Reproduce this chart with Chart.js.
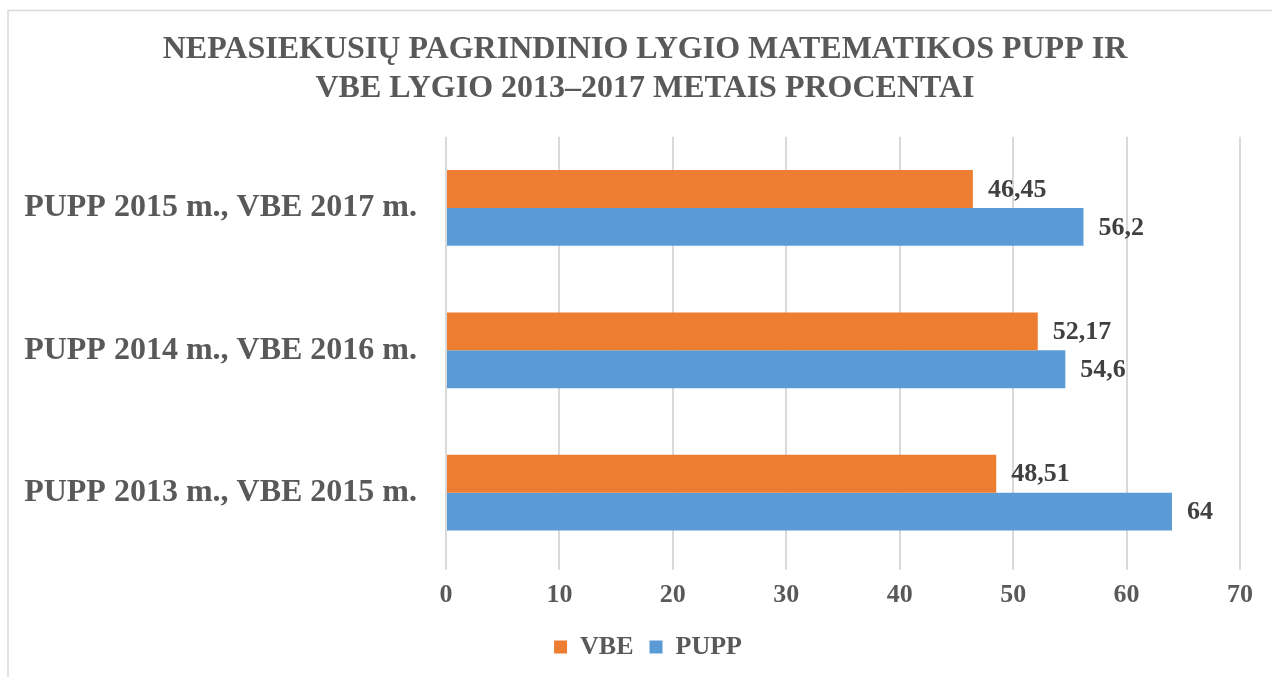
<!DOCTYPE html>
<html>
<head>
<meta charset="utf-8">
<script src="https://cdn.jsdelivr.net/npm/chart.js@4/dist/chart.umd.min.js"></script>
<style>
  html, body { margin: 0; padding: 0; background: #ffffff; }
  #wrap { position: relative; width: 1272px; height: 677px; }
</style>
</head>
<body>
<div id="wrap"><canvas id="c" width="1272" height="677"></canvas></div>
<script>
const categories = ["PUPP 2015 m., VBE 2017 m.", "PUPP 2014 m., VBE 2016 m.", "PUPP 2013 m., VBE 2015 m."];
const seriesNames = ["VBE", "PUPP"];
const vbeValues = [46.45, 52.17, 48.51];
const puppValues = [56.2, 54.6, 64];
const titleLines = ["NEPASIEKUSIŲ PAGRINDINIO LYGIO MATEMATIKOS PUPP IR", "VBE LYGIO 2013–2017 METAIS PROCENTAI"];
const xMin = 0, xMax = 70, xStep = 10;

const FONT = "'Liberation Serif', 'Times New Roman', serif";

const frame = {
  id: 'frame',
  beforeDraw(chart) {
    const ctx = chart.ctx;
    ctx.save();
    ctx.fillStyle = '#ffffff';
    ctx.fillRect(0, 0, chart.width, chart.height);
    ctx.strokeStyle = '#d9d9d9';
    ctx.lineWidth = 1.5;
    ctx.beginPath();
    ctx.moveTo(8, chart.height + 2);
    ctx.lineTo(8, 10.5);
    ctx.lineTo(chart.width + 2, 10.5);
    ctx.stroke();
    ctx.restore();
  }
};

// shift the title and legend blocks so they are centred like the original
const recentre = {
  id: 'recentre',
  afterLayout(chart) {
    if (chart.titleBlock) { chart.titleBlock.left += 50; }
    if (chart.legend) { chart.legend.left += 56; }
  }
};

const valueLabels = {
  id: 'valueLabels',
  afterDatasetsDraw(chart) {
    const ctx = chart.ctx;
    ctx.save();
    ctx.font = 'bold 26px ' + FONT;
    ctx.fillStyle = '#404040';
    ctx.textAlign = 'left';
    ctx.textBaseline = 'middle';
    chart.data.datasets.forEach((ds, i) => {
      const meta = chart.getDatasetMeta(i);
      meta.data.forEach((bar, j) => {
        const txt = String(ds.data[j]).replace('.', ',');
        ctx.fillText(txt, bar.x + 15, bar.y + 1);
      });
    });
    ctx.restore();
  }
};

new Chart(document.getElementById('c'), {
  type: 'bar',
  data: {
    labels: categories,
    datasets: [
      { label: seriesNames[0], data: vbeValues, backgroundColor: '#ED7D31', categoryPercentage: 0.532, barPercentage: 1.0 },
      { label: seriesNames[1], data: puppValues, backgroundColor: '#5B9BD5', categoryPercentage: 0.532, barPercentage: 1.0 }
    ]
  },
  options: {
    indexAxis: 'y',
    responsive: false,
    animation: false,
    devicePixelRatio: 1,
    layout: { padding: { left: 0, right: 32, top: 0, bottom: 7 } },
    plugins: {
      title: {
        display: true,
        text: titleLines,
        color: '#595959',
        font: { family: FONT, size: 32, weight: 'bold', lineHeight: 1.2 },
        padding: { top: 31, bottom: 29 }
      },
      legend: {
        display: true,
        position: 'bottom',
        labels: {
          color: '#595959',
          font: { family: FONT, size: 26, weight: 'bold' },
          boxWidth: 13,
          boxHeight: 13,
          padding: 16
        }
      },
      tooltip: { enabled: false }
    },
    scales: {
      x: {
        min: xMin,
        max: xMax,
        ticks: {
          stepSize: xStep,
          color: '#595959',
          font: { family: FONT, size: 26, weight: 'bold' },
          padding: 10,
          maxRotation: 0
        },
        grid: { color: '#d9d9d9', lineWidth: 2, tickLength: 6, drawTicks: true },
        border: { display: false },
        afterFit(scale) { scale.height = scale.height - 3; }
      },
      y: {
        ticks: {
          color: '#595959',
          font: { family: FONT, size: 32, weight: 'bold' },
          padding: 29
        },
        grid: { display: false, drawTicks: false },
        border: { display: false },
        afterFit(scale) { scale.width = 446; }
      }
    }
  },
  plugins: [frame, recentre, valueLabels]
});
</script>
</body>
</html>
